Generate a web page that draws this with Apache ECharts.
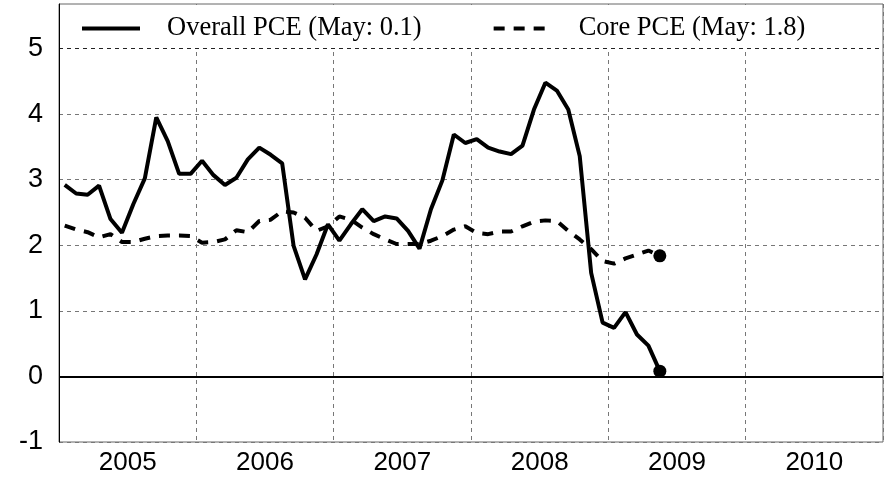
<!DOCTYPE html>
<html>
<head>
<meta charset="utf-8">
<script src="https://cdn.jsdelivr.net/npm/echarts@6/dist/echarts.min.js"></script>
<style>
html, body { margin: 0; padding: 0; background: #fff; }
#main { width: 891px; height: 479px; }
</style>
</head>
<body>
<div id="main"></div>
<script>
// years shown on the axis, one category per month
var years = ['2005', '2006', '2007', '2008', '2009', '2010'];
var months = [];
years.forEach(function (y) {
  for (var m = 1; m <= 12; m++) months.push(y + '-' + (m < 10 ? '0' + m : m));
});

// PCE inflation, % y/y, Jan 2005 .. May 2009
var overallPce = [
  2.92, 2.79, 2.77, 2.91, 2.40, 2.19, 2.63, 3.02, 3.95, 3.59, 3.09, 3.09,
  3.29, 3.07, 2.92, 3.03, 3.31, 3.49, 3.38, 3.25, 1.99, 1.48, 1.86, 2.32,
  2.07, 2.32, 2.55, 2.37, 2.44, 2.41, 2.22, 1.95, 2.55, 2.99, 3.69, 3.56,
  3.62, 3.49, 3.43, 3.39, 3.52, 4.07, 4.48, 4.36, 4.07, 3.36, 1.58, 0.82,
  0.74, 0.98, 0.64, 0.47, 0.08
];
var corePce = [
  2.30, 2.24, 2.20, 2.12, 2.17, 2.05, 2.05, 2.10, 2.14, 2.15, 2.15, 2.14,
  2.04, 2.05, 2.09, 2.23, 2.20, 2.37, 2.39, 2.52, 2.50, 2.42, 2.22, 2.29,
  2.44, 2.39, 2.27, 2.17, 2.09, 2.02, 2.02, 2.02, 2.07, 2.14, 2.24, 2.29,
  2.19, 2.17, 2.21, 2.21, 2.29, 2.36, 2.38, 2.37, 2.22, 2.09, 1.94, 1.76,
  1.72, 1.80, 1.86, 1.92, 1.84
];
var seriesNames = ['Overall PCE (May: 0.1)', 'Core PCE (May: 1.8)'];

var myChart = echarts.init(document.getElementById('main'));

function lastPoint(arr) {
  return [{ coord: [months[arr.length - 1], arr[arr.length - 1]] }];
}

var option = {
  animation: false,
  grid: {
    left: 59, right: 8, top: 4, bottom: 37,
    show: true, borderColor: '#666', borderWidth: 1
  },
  // white box behind the legend so the year lines stop at 5
  graphic: [{
    type: 'rect', left: 60, top: 5, z: 1, silent: true,
    shape: { width: 822, height: 43 },
    style: { fill: '#fff' }
  }],
  legend: {
    data: seriesNames,
    left: 80, top: 15, padding: 0,
    itemWidth: 58, itemHeight: 14, itemGap: 70,
    itemStyle: { opacity: 0 },
    lineStyle: { width: 4 },
    textStyle: {
      fontFamily: 'Liberation Serif', fontSize: 26.5, color: '#000',
      padding: [0, 0, 0, 22]
    }
  },
  xAxis: [
    {
      type: 'category',
      data: months,
      boundaryGap: true,
      axisLine: { show: false, onZero: false },
      axisTick: { show: false },
      axisLabel: { show: false },
      splitLine: {
        show: true,
        interval: function (i) { return i > 0 && i % 12 === 0; },
        lineStyle: { color: '#777', type: [4, 4], width: 1 }
      }
    },
    {
      // only for the year labels, centred in each year
      type: 'value', min: 0, max: 72, interval: 6, position: 'bottom', offset: 0,
      axisLine: { show: false, onZero: false },
      axisTick: { show: false },
      splitLine: { show: false },
      axisLabel: {
        margin: 8,
        fontFamily: 'Liberation Sans', fontSize: 26, color: '#000',
        formatter: function (v) { return v % 12 === 6 ? years[(v - 6) / 12] : ''; }
      }
    }
  ],
  yAxis: {
    type: 'value', min: -1, max: 5.68, interval: 1,
    axisLine: { show: true, onZero: false, lineStyle: { color: '#000', width: 1 } },
    axisTick: { show: false },
    axisLabel: {
      margin: 16,
      fontFamily: 'Liberation Sans', fontSize: 27, color: '#000',
      formatter: function (v) {
        return Math.abs(v - Math.round(v)) < 1e-6 ? String(Math.round(v)) : '';
      }
    },
    splitLine: {
      show: true,
      lineStyle: {
        color: ['#777', '#777', '#777', '#777', '#777', '#777', '#222', 'transparent'],
        type: [4, 4], width: 1
      }
    }
  },
  series: [
    {
      name: seriesNames[0],
      type: 'line',
      data: overallPce,
      symbol: 'none',
      lineStyle: { color: '#000', width: 4 },
      itemStyle: { color: '#000' },
      z: 3,
      markPoint: {
        symbol: 'circle', symbolSize: 13, silent: true,
        label: { show: false },
        itemStyle: { color: '#000' },
        data: lastPoint(overallPce)
      },
      markLine: {
        silent: true, symbol: 'none',
        label: { show: false },
        lineStyle: { color: '#000', type: 'solid', width: 2 },
        data: [{ yAxis: 0 }]
      }
    },
    {
      name: seriesNames[1],
      type: 'line',
      data: corePce,
      symbol: 'none',
      lineStyle: { color: '#000', width: 4, type: [11, 9] },
      itemStyle: { color: '#000' },
      z: 2,
      markPoint: {
        symbol: 'circle', symbolSize: 13, silent: true,
        label: { show: false },
        itemStyle: { color: '#000' },
        data: lastPoint(corePce)
      }
    }
  ]
};
myChart.setOption(option);
</script>
</body>
</html>
